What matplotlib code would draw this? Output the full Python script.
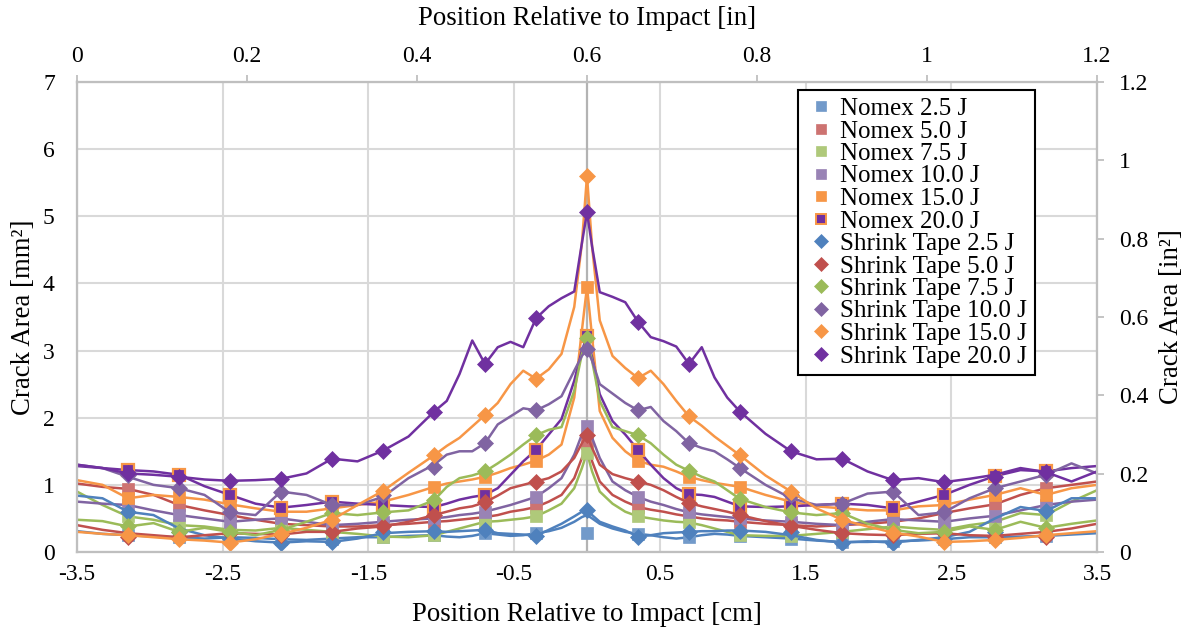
import numpy as np
import matplotlib
matplotlib.use("Agg")
import matplotlib.pyplot as plt
from matplotlib.lines import Line2D

plt.rcParams["font.family"] = ["Liberation Serif", "DejaVu Serif"]

# sample positions of the traces [cm]
x_line = [-3.5, -3.325, -3.15, -2.975, -2.8, -2.625, -2.45, -2.275, -2.1, -1.925,
          -1.75, -1.575, -1.4, -1.225,
          -1.05, -0.9625, -0.875, -0.7875, -0.7, -0.6125, -0.525, -0.4375, -0.35,
          -0.2625, -0.175, -0.0875, -0.035, 0, 0.035, 0.0875, 0.175, 0.2625, 0.35,
          0.4375, 0.525, 0.6125, 0.7, 0.7875, 0.875, 0.9625, 1.05,
          1.225, 1.4, 1.575, 1.75, 1.925, 2.1, 2.275, 2.45, 2.625, 2.8, 2.975,
          3.15, 3.325, 3.5]
# marker positions [cm]
x_mark = [-3.15, -2.8, -2.45, -2.1, -1.75, -1.4, -1.05, -0.7, -0.35, 0,
          0.35, 0.7, 1.05, 1.4, 1.75, 2.1, 2.45, 2.8, 3.15]

labels = ["Nomex 2.5 J", "Nomex 5.0 J", "Nomex 7.5 J", "Nomex 10.0 J",
          "Nomex 15.0 J", "Nomex 20.0 J",
          "Shrink Tape 2.5 J", "Shrink Tape 5.0 J", "Shrink Tape 7.5 J",
          "Shrink Tape 10.0 J", "Shrink Tape 15.0 J", "Shrink Tape 20.0 J"]

# crack area [mm^2]
nomex_25 = [0.31, 0.27, 0.25, 0.23, 0.22, 0.20, 0.22, 0.21, 0.19, 0.18, 0.20, 0.22, 0.22, 0.24,
            0.25, 0.23, 0.22, 0.24, 0.28, 0.26, 0.24, 0.25, 0.28, 0.31, 0.36, 0.45, 0.52, 0.55,
            0.50, 0.42, 0.35, 0.30, 0.27, 0.25, 0.22, 0.20, 0.22, 0.25, 0.27, 0.26, 0.24,
            0.22, 0.20, 0.17, 0.15, 0.15, 0.16, 0.17, 0.19, 0.22, 0.22, 0.23, 0.24, 0.26, 0.28]
nomex_50 = [1.02, 0.97, 0.94, 0.85, 0.70, 0.62, 0.55, 0.48, 0.42, 0.40, 0.38, 0.38, 0.40, 0.42,
            0.45, 0.46, 0.48, 0.50, 0.52, 0.55, 0.60, 0.63, 0.67, 0.75, 0.85, 1.10, 1.40, 1.62,
            1.35, 1.05, 0.85, 0.75, 0.67, 0.63, 0.60, 0.56, 0.53, 0.50, 0.48, 0.47, 0.45,
            0.42, 0.40, 0.38, 0.40, 0.42, 0.45, 0.50, 0.58, 0.65, 0.71, 0.85, 0.95, 1.00, 1.05]
nomex_75 = [0.90, 0.70, 0.53, 0.48, 0.40, 0.38, 0.33, 0.32, 0.36, 0.33, 0.30, 0.27, 0.23, 0.22,
            0.25, 0.30, 0.35, 0.40, 0.45, 0.46, 0.48, 0.50, 0.53, 0.62, 0.72, 0.95, 1.25, 1.48,
            1.20, 0.90, 0.72, 0.60, 0.53, 0.50, 0.47, 0.45, 0.44, 0.40, 0.35, 0.30, 0.25,
            0.24, 0.24, 0.27, 0.30, 0.34, 0.38, 0.35, 0.33, 0.40, 0.45, 0.58, 0.55, 0.75, 0.92]
nomex_100 = [0.75, 0.72, 0.70, 0.62, 0.55, 0.50, 0.45, 0.48, 0.50, 0.45, 0.40, 0.42, 0.45, 0.48,
             0.50, 0.52, 0.55, 0.57, 0.60, 0.65, 0.70, 0.76, 0.82, 0.95, 1.10, 1.45, 1.75, 1.88,
             1.70, 1.40, 1.05, 0.92, 0.82, 0.75, 0.70, 0.64, 0.59, 0.56, 0.54, 0.52, 0.50,
             0.47, 0.45, 0.42, 0.40, 0.45, 0.49, 0.47, 0.45, 0.50, 0.54, 0.62, 0.70, 0.75, 0.78]
nomex_150 = [1.07, 1.00, 0.80, 0.85, 0.82, 0.78, 0.71, 0.65, 0.60, 0.60, 0.65, 0.70, 0.75, 0.85,
             0.97, 1.02, 1.05, 1.08, 1.12, 1.18, 1.25, 1.30, 1.36, 1.45, 1.60, 2.30, 3.30, 3.95,
             3.20, 2.10, 1.70, 1.50, 1.36, 1.30, 1.27, 1.20, 1.12, 1.07, 1.03, 1.00, 0.97,
             0.85, 0.75, 0.68, 0.65, 0.62, 0.62, 0.68, 0.70, 0.78, 0.85, 0.95, 0.85, 0.95, 1.00]
nomex_200 = [1.28, 1.25, 1.22, 1.20, 1.15, 0.98, 0.85, 0.72, 0.66, 0.70, 0.75, 0.72, 0.70, 0.68,
             0.67, 0.72, 0.78, 0.82, 0.85, 0.95, 1.15, 1.35, 1.52, 1.75, 1.98, 2.55, 3.00, 3.21,
             2.90, 2.35, 1.95, 1.75, 1.52, 1.30, 1.10, 0.95, 0.86, 0.85, 0.82, 0.75, 0.68,
             0.67, 0.68, 0.70, 0.72, 0.70, 0.65, 0.75, 0.85, 1.00, 1.13, 1.22, 1.20, 1.25, 1.28]
shrink_25 = [0.84, 0.80, 0.60, 0.55, 0.35, 0.25, 0.20, 0.16, 0.14, 0.16, 0.15, 0.20, 0.28, 0.30,
             0.31, 0.30, 0.31, 0.32, 0.33, 0.28, 0.27, 0.26, 0.24, 0.33, 0.42, 0.53, 0.60, 0.63,
             0.55, 0.45, 0.38, 0.32, 0.23, 0.25, 0.28, 0.29, 0.30, 0.31, 0.31, 0.32, 0.32,
             0.30, 0.25, 0.18, 0.14, 0.16, 0.14, 0.18, 0.22, 0.30, 0.50, 0.67, 0.61, 0.80, 0.80]
shrink_50 = [0.40, 0.33, 0.28, 0.25, 0.22, 0.25, 0.28, 0.27, 0.26, 0.30, 0.30, 0.35, 0.38, 0.45,
             0.55, 0.60, 0.65, 0.68, 0.74, 0.84, 0.95, 1.00, 1.05, 1.10, 1.20, 1.40, 1.62, 1.74,
             1.55, 1.30, 1.16, 1.10, 1.05, 1.00, 0.92, 0.82, 0.73, 0.68, 0.64, 0.60, 0.55,
             0.46, 0.39, 0.33, 0.28, 0.26, 0.25, 0.27, 0.28, 0.25, 0.24, 0.27, 0.30, 0.35, 0.42]
shrink_75 = [0.48, 0.46, 0.38, 0.43, 0.30, 0.36, 0.30, 0.25, 0.33, 0.45, 0.58, 0.55, 0.59, 0.62,
             0.77, 0.97, 1.10, 1.14, 1.20, 1.32, 1.45, 1.60, 1.74, 1.82, 1.86, 2.40, 2.95, 3.18,
             2.85, 2.25, 1.86, 1.80, 1.74, 1.62, 1.45, 1.30, 1.21, 1.12, 1.05, 0.92, 0.79,
             0.67, 0.59, 0.55, 0.58, 0.42, 0.33, 0.28, 0.30, 0.38, 0.33, 0.45, 0.36, 0.42, 0.47]
shrink_100 = [1.30, 1.25, 1.12, 1.00, 0.95, 0.85, 0.59, 0.55, 0.90, 0.85, 0.70, 0.70, 0.82, 1.10,
              1.30, 1.45, 1.50, 1.50, 1.62, 1.90, 2.02, 2.14, 2.11, 2.20, 2.32, 2.70, 2.92, 3.02,
              2.85, 2.50, 2.36, 2.22, 2.11, 2.16, 1.95, 1.80, 1.62, 1.55, 1.50, 1.38, 1.25,
              1.00, 0.80, 0.70, 0.72, 0.87, 0.90, 0.55, 0.59, 0.80, 0.95, 1.05, 1.15, 1.32, 1.17]
shrink_150 = [0.30, 0.27, 0.25, 0.22, 0.19, 0.17, 0.14, 0.19, 0.27, 0.36, 0.48, 0.70, 0.91, 1.18,
              1.44, 1.58, 1.70, 1.87, 2.04, 2.22, 2.50, 2.70, 2.58, 2.72, 2.95, 3.65, 4.60, 5.60,
              4.55, 3.45, 2.92, 2.74, 2.59, 2.70, 2.50, 2.25, 2.02, 1.88, 1.72, 1.58, 1.44,
              1.14, 0.90, 0.65, 0.48, 0.38, 0.29, 0.23, 0.15, 0.16, 0.18, 0.21, 0.25, 0.28, 0.31]
shrink_200 = [1.30, 1.25, 1.17, 1.15, 1.12, 1.08, 1.06, 1.07, 1.09, 1.17, 1.39, 1.35, 1.51, 1.72,
              2.09, 2.25, 2.65, 3.15, 2.80, 3.05, 3.13, 3.05, 3.48, 3.66, 3.78, 3.88, 4.60, 5.06,
              4.55, 3.87, 3.80, 3.72, 3.43, 3.20, 3.14, 3.06, 2.80, 3.05, 2.60, 2.30, 2.09,
              1.76, 1.50, 1.38, 1.39, 1.20, 1.07, 1.10, 1.04, 1.09, 1.15, 1.25, 1.19, 1.05, 1.20]

# marker values [mm^2]
nomex_25_pts = [0.25, 0.22, 0.22, 0.19, 0.20, 0.22, 0.25, 0.28, 0.28, 0.28,
                0.27, 0.22, 0.24, 0.20, 0.15, 0.16, 0.19, 0.22, 0.24]
nomex_50_pts = [0.94, 0.70, 0.55, 0.42, 0.38, 0.40, 0.45, 0.52, 0.67, 1.62,
                0.67, 0.53, 0.45, 0.40, 0.40, 0.45, 0.58, 0.71, 0.95]
nomex_75_pts = [0.53, 0.40, 0.33, 0.36, 0.30, 0.23, 0.25, 0.45, 0.53, 1.48,
                0.53, 0.45, 0.25, 0.24, 0.30, 0.38, 0.33, 0.40, 0.55]
nomex_100_pts = [0.70, 0.55, 0.45, 0.50, 0.40, 0.45, 0.50, 0.60, 0.82, 1.88,
                 0.82, 0.59, 0.50, 0.45, 0.40, 0.49, 0.45, 0.54, 0.70]
nomex_150_pts = [0.80, 0.82, 0.71, 0.62, 0.65, 0.75, 0.97, 1.12, 1.36, 3.95,
                 1.36, 1.12, 0.97, 0.75, 0.65, 0.62, 0.70, 0.85, 0.85]
nomex_200_pts = [1.22, 1.15, 0.85, 0.66, 0.75, 0.70, 0.67, 0.85, 1.52, 3.21,
                 1.52, 0.86, 0.67, 0.68, 0.72, 0.65, 0.85, 1.13, 1.20]
shrink_25_pts = [0.60, 0.30, 0.20, 0.14, 0.15, 0.30, 0.31, 0.33, 0.24, 0.63,
                 0.23, 0.30, 0.32, 0.30, 0.14, 0.14, 0.20, 0.30, 0.61]
shrink_50_pts = [0.22, 0.22, 0.28, 0.25, 0.30, 0.38, 0.55, 0.74, 1.05, 1.74,
                 1.05, 0.73, 0.55, 0.39, 0.28, 0.25, 0.28, 0.22, 0.22]
shrink_75_pts = [0.38, 0.30, 0.30, 0.33, 0.58, 0.59, 0.77, 1.20, 1.74, 3.18,
                 1.74, 1.20, 0.79, 0.59, 0.58, 0.33, 0.30, 0.33, 0.36]
shrink_100_pts = [1.15, 0.95, 0.59, 0.90, 0.70, 0.85, 1.27, 1.62, 2.11, 3.02,
                  2.11, 1.62, 1.25, 0.85, 0.72, 0.90, 0.59, 0.95, 1.15]
shrink_150_pts = [0.25, 0.19, 0.14, 0.27, 0.48, 0.91, 1.44, 2.04, 2.58, 5.60,
                  2.59, 2.02, 1.44, 0.90, 0.48, 0.29, 0.15, 0.18, 0.25]
shrink_200_pts = [1.17, 1.12, 1.06, 1.09, 1.39, 1.51, 2.09, 2.80, 3.48, 5.06,
                  3.43, 2.80, 2.09, 1.50, 1.39, 1.07, 1.04, 1.12, 1.19]

lines = [nomex_25, nomex_50, nomex_75, nomex_100, nomex_150, nomex_200,
         shrink_25, shrink_50, shrink_75, shrink_100, shrink_150, shrink_200]
points = [nomex_25_pts, nomex_50_pts, nomex_75_pts, nomex_100_pts, nomex_150_pts,
          nomex_200_pts, shrink_25_pts, shrink_50_pts, shrink_75_pts,
          shrink_100_pts, shrink_150_pts, shrink_200_pts]

line_colors = ["#4F81BD", "#C0504D", "#9BBB59", "#8064A2", "#F79646", "#7030A0"] * 2
face_colors = ["#729ACA", "#CD7371", "#AFC97A", "#9983B5", "#F79646", "#7030A0",
               "#4F81BD", "#C0504D", "#9BBB59", "#8064A2", "#F79646", "#7030A0"]
edge_colors = face_colors[:5] + ["#F79646"] + face_colors[6:]
markers = ["s"] * 6 + ["D"] * 6
msizes = [8.5] * 6 + [8.0] * 6

fig = plt.figure(figsize=(11.88, 6.32), dpi=100)
ax = fig.add_axes([77 / 1188, 80 / 632, 1020 / 1188, 470 / 632])

grid_c = "#D9D9D9"
axis_c = "#BFBFBF"

for i in range(12):
    z = 3 + i
    ax.plot(x_line, lines[i], color=line_colors[i], lw=1.8, zorder=z,
            solid_joinstyle="round")
    ax.plot(x_mark, points[i], ls="none", marker=markers[i], ms=msizes[i],
            mfc=face_colors[i], mec=edge_colors[i],
            mew=1.6 if i == 5 else 0.5, zorder=z + 0.5)

ax.set_xlim(-3.5, 3.5)
ax.set_ylim(0, 7)
ax.set_xticks(np.arange(-3.5, 3.51, 1.0))
ax.set_xticklabels(["-3.5", "-2.5", "-1.5", "-0.5", "0.5", "1.5", "2.5", "3.5"])
ax.set_yticks(range(8))
ax.grid(True, color=grid_c, lw=1.5, zorder=0)
ax.set_axisbelow(True)
ax.axvline(0, color="#B3B3B3", lw=1.6, zorder=1)
ax.tick_params(axis="both", length=0, labelsize=17, colors="black")
ax.tick_params(axis="x", pad=9)
ax.tick_params(axis="y", pad=16)
for side, sp in ax.spines.items():
    sp.set_color(axis_c)
    sp.set_linewidth(1.5)

ax.set_xlabel("Position Relative to Impact [cm]", fontsize=19.3)
ax.set_ylabel("Crack Area [mm²]", fontsize=19.3)
ax.xaxis.set_label_coords(0.5, -0.134)
ax.xaxis.label.set_va("center")
ax.yaxis.set_label_coords(-0.052, 0.5)
ax.yaxis.label.set_va("center")

# secondary axes (inches)
ax_top = ax.twiny()
ax_top.set_xlim(0, 1.2)
ax_top.set_xticks(np.arange(0, 1.21, 0.2))
ax_top.set_xticklabels(["0", "0.2", "0.4", "0.6", "0.8", "1", "1.2"])
ax_top.tick_params(axis="x", length=5, width=1.3, color=axis_c, pad=6,
                   labelsize=17)
ax_top.set_xlabel("Position Relative to Impact [in]", fontsize=19.3)
ax_top.xaxis.set_label_coords(0.5, 1.136)
ax_top.xaxis.label.set_va("center")

ax_right = ax.twinx()
ax_right.set_ylim(0, 1.2)
ax_right.set_yticks(np.arange(0, 1.21, 0.2))
ax_right.set_yticklabels(["0", "0.2", "0.4", "0.6", "0.8", "1", "1.2"])
ax_right.tick_params(axis="y", length=5, width=1.3, color=axis_c, pad=11,
                     labelsize=17)
ax_right.set_ylabel("Crack Area [in²]", fontsize=19.3)
ax_right.yaxis.set_label_coords(1.0735, 0.5)
ax_right.yaxis.label.set_va("center")

for a in (ax_top, ax_right):
    for sp in a.spines.values():
        sp.set_color(axis_c)
        sp.set_linewidth(1.5)

handles = [Line2D([], [], ls="none", marker=markers[i], ms=msizes[i] - 1.2,
                  mfc=face_colors[i], mec=edge_colors[i],
                  mew=1.4 if i == 5 else 0.5) for i in range(12)]
leg = ax_right.legend(handles, labels, loc="upper left",
                      bbox_to_anchor=((798 - 77) / 1020, (552 - 90) / 470),
                      fontsize=18, frameon=True, fancybox=False,
                      framealpha=1, edgecolor="black", borderpad=0.3,
                      labelspacing=0.0, handlelength=1.2, handletextpad=0.2,
                      borderaxespad=0)
leg.get_frame().set_linewidth(1.5)

fig.savefig("out.png", dpi=100)
